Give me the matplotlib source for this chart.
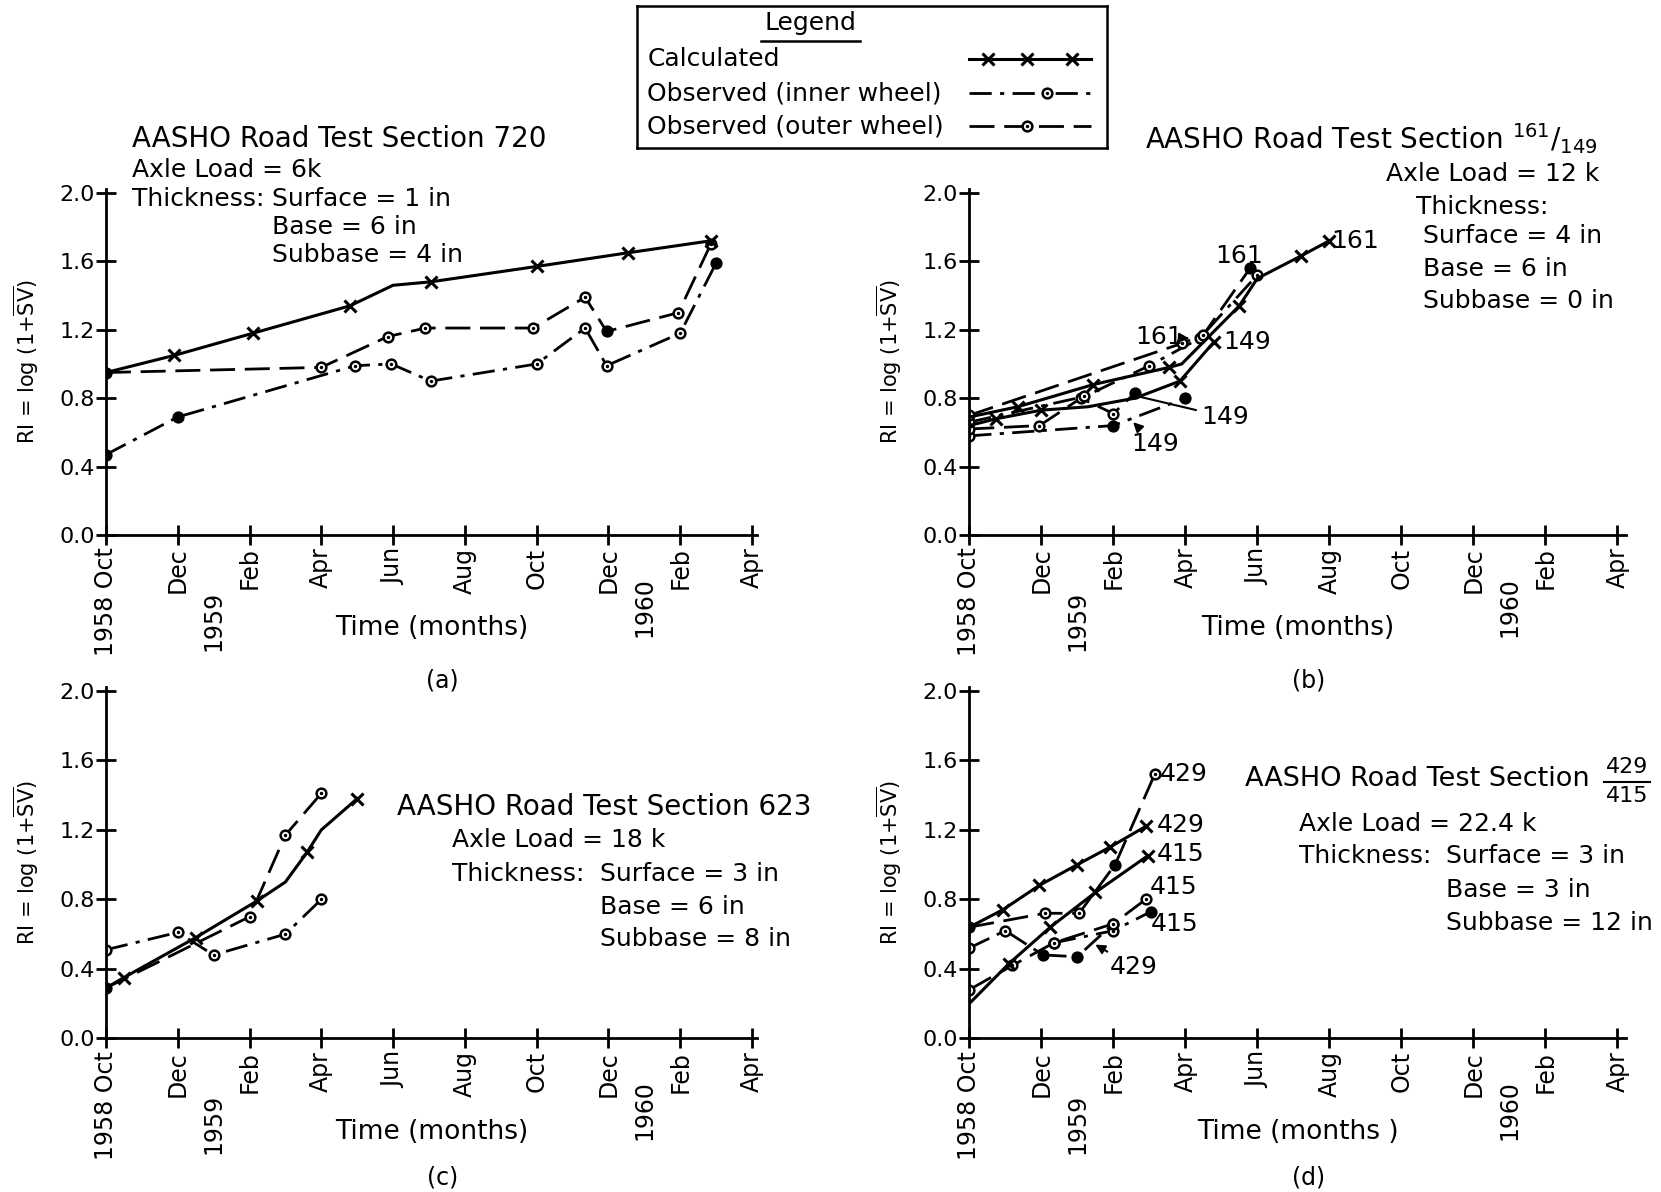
'''AASHO Road Test sections: roughness index RI vs time, calculated and observed'''
import numpy as np
import matplotlib
matplotlib.use("Agg")
from matplotlib import pyplot as plt
from matplotlib.lines import Line2D

plt.rcParams['font.family'] = 'DejaVu Sans'
plt.rcParams['mathtext.fontset'] = 'dejavusans'

# x values are months after Oct 1958
month_ticks = list(range(0, 19, 2))
month_labels = ['1958 Oct', 'Dec', 'Feb', 'Apr', 'Jun', 'Aug', 'Oct', 'Dec', 'Feb', 'Apr']
year_labels = ['1959', '1960']
year_pos = [3.0, 15.0]
ri_ticks = [0.0, 0.4, 0.8, 1.2, 1.6, 2.0]
legend_labels = ['Calculated', 'Observed (inner wheel)', 'Observed (outer wheel)']

# (a) section 720
a_calc_m = [0, 1.9, 4.1, 6.8, 8.0, 9.05, 12.0, 14.55, 16.85]
a_calc_v = [0.95, 1.05, 1.18, 1.34, 1.46, 1.48, 1.57, 1.65, 1.72]
a_calc_mark = [1, 2, 3, 5, 6, 7, 8]
a_out_m = [0, 6.0, 7.85, 8.9, 11.9, 13.35, 13.95, 15.95, 16.85]
a_out_v = [0.95, 0.98, 1.16, 1.21, 1.21, 1.39, 1.19, 1.30, 1.70]
a_out_fill = [0, 6]
a_in_m = [0, 2.0, 6.95, 7.95, 9.05, 12.0, 13.35, 13.95, 16.0, 17.0]
a_in_v = [0.47, 0.69, 0.99, 1.0, 0.90, 1.0, 1.21, 0.99, 1.18, 1.59]
a_in_fill = [0, 1, 9]

# (b) sections 161 / 149
b_c161_m = [0, 1.35, 3.45, 5.55, 5.9, 7.5, 8.0, 9.2, 10.0]
b_c161_v = [0.69, 0.75, 0.88, 0.98, 1.0, 1.34, 1.50, 1.63, 1.72]
b_c161_mark = [1, 2, 3, 5, 7, 8]
b_c149_m = [0, 0.75, 2.0, 3.3, 4.6, 5.85, 6.8]
b_c149_v = [0.64, 0.68, 0.73, 0.75, 0.80, 0.90, 1.13]
b_c149_mark = [1, 2, 5, 6]
b_o161_m = [0, 5.9, 6.5, 7.8]
b_o161_v = [0.70, 1.12, 1.17, 1.56]
b_o161_fill = [3]
b_i161_m = [0, 3.2, 5.0, 6.4, 8.0]
b_i161_v = [0.66, 0.81, 0.99, 1.15, 1.52]
b_i161_fill = []
b_o149_m = [0, 1.95, 3.1, 4.0, 4.6]
b_o149_v = [0.62, 0.64, 0.80, 0.71, 0.83]
b_o149_fill = [4]
b_i149_m = [0, 4.0, 6.0]
b_i149_v = [0.58, 0.64, 0.80]
b_i149_fill = [1, 2]

# (c) section 623
c_calc_m = [0, 0.5, 2.5, 4.2, 5.0, 5.6, 6.0, 7.0]
c_calc_v = [0.29, 0.35, 0.58, 0.79, 0.90, 1.07, 1.20, 1.38]
c_calc_mark = [1, 2, 3, 5, 7]
c_out_m = [0, 4.0, 5.0, 6.0]
c_out_v = [0.29, 0.70, 1.17, 1.41]
c_out_fill = [0]
c_in_m = [0, 2.0, 3.0, 5.0, 6.0]
c_in_v = [0.51, 0.61, 0.48, 0.60, 0.80]
c_in_fill = []

# (d) sections 429 / 415
d_c429_m = [0, 0.93, 1.94, 3.0, 3.9, 4.9]
d_c429_v = [0.64, 0.74, 0.88, 1.0, 1.10, 1.22]
d_c415_m = [0, 1.1, 2.25, 3.5, 4.95]
d_c415_v = [0.20, 0.43, 0.64, 0.84, 1.05]
d_o429_m = [0, 2.1, 3.05, 4.05, 5.15]
d_o429_v = [0.64, 0.72, 0.72, 1.0, 1.52]
d_o429_fill = [0, 3]
d_i429_m = [0, 1.0, 2.05, 3.0, 4.0]
d_i429_v = [0.52, 0.62, 0.48, 0.47, 0.66]
d_i429_fill = [2, 3]
d_o415_m = [0, 1.2, 2.35, 4.0, 4.9]
d_o415_v = [0.28, 0.42, 0.55, 0.66, 0.80]
d_o415_fill = []
d_i415_m = [2.35, 4.0, 5.05]
d_i415_v = [0.55, 0.62, 0.73]
d_i415_fill = [2]

CALC = dict(color='k', lw=2.2, ls='-', marker='x', ms=9, mew=2.2)
INNER = dict(color='k', lw=2, ls=(0, (8, 3, 1.5, 3)), marker='o', ms=7, mfc='white', mew=1.8)
OUTER = dict(color='k', lw=2, ls=(0, (9, 3.5)), marker='o', ms=7, mfc='white', mew=1.8)
FS = 18
TITLE_FS = 20

W, H = 1568, 1125  # layout measured on the reference image


def fx(px):
    return px / W


def fy(py):
    return 1 - py / H


def calc(ax, m, v, mark=None):
    ax.plot(m, v, markevery=mark, **CALC)


def obs(ax, m, v, style, fill):
    ax.plot(m, v, **style)
    ax.plot(m, v, '.', color='k', ms=3)
    if fill:
        ax.plot(np.array(m)[fill], np.array(v)[fill], 'o', color='k', ms=7)


def setup(ax, letter, cap_off, xlabel='Time (months)'):
    ax.patch.set_visible(False)
    ax.set_ylim(0, 2.025)
    for s in ['top', 'right']:
        ax.spines[s].set_visible(False)
    for s in ['left', 'bottom']:
        ax.spines[s].set_linewidth(2)
    ax.set_xticks(month_ticks)
    ax.set_xticklabels(month_labels, rotation=90, fontsize=17)
    ax.set_yticks(ri_ticks)
    ax.set_yticklabels(['%.1f' % t for t in ri_ticks], fontsize=16)
    ax.tick_params(direction='inout', length=14, width=2)
    ax.tick_params(axis='y', pad=1)
    ax.tick_params(axis='x', pad=2)
    for yr, pos, off in zip(year_labels, year_pos, [-40, -30]):
        ax.annotate(yr, xy=(pos, 0), xycoords=('data', 'axes fraction'),
                    xytext=(0, off), textcoords='offset points',
                    rotation=90, ha='center', va='top', fontsize=17)
    ax.set_xlabel(xlabel, fontsize=19)
    ax.xaxis.set_label_coords(0.5, -0.23)
    ax.set_ylabel(r'RI = log (1+$\overline{\mathrm{SV}}$)', fontsize=15)
    ax.yaxis.set_label_coords(-0.10, 0.5)
    ax.annotate(letter, xy=(0.517, 0), xycoords='axes fraction', xytext=(0, cap_off),
                textcoords='offset points', ha='center', va='center', fontsize=17)


fig = plt.figure(figsize=(16.61, 11.92), dpi=100)
ax_a = fig.add_axes([fx(100), fy(505), fx(615), 327 / H])
ax_b = fig.add_axes([fx(915), fy(505), fx(620), 327 / H])
ax_c = fig.add_axes([fx(100), fy(980), fx(615), 332 / H])
ax_d = fig.add_axes([fx(915), fy(980), fx(620), 332 / H])

# (a)
obs(ax_a, a_in_m, a_in_v, INNER, a_in_fill)
obs(ax_a, a_out_m, a_out_v, OUTER, a_out_fill)
calc(ax_a, a_calc_m, a_calc_v, a_calc_mark)
ax_a.set_xlim(0, 18.15)
setup(ax_a, '(a)', -105)

# (b)
obs(ax_b, b_i149_m, b_i149_v, INNER, b_i149_fill)
obs(ax_b, b_o149_m, b_o149_v, OUTER, b_o149_fill)
obs(ax_b, b_i161_m, b_i161_v, INNER, b_i161_fill)
obs(ax_b, b_o161_m, b_o161_v, OUTER, b_o161_fill)
calc(ax_b, b_c149_m, b_c149_v, b_c149_mark)
calc(ax_b, b_c161_m, b_c161_v, b_c161_mark)
ax_b.set_xlim(0, 18.24)
setup(ax_b, '(b)', -105)
lab = dict(fontsize=18, va='center')
arr = dict(arrowstyle='-|>', color='k', lw=1.5, mutation_scale=14, shrinkA=1, shrinkB=0)
ax_b.text(7.5, 1.63, '161', ha='center', **lab)
ax_b.text(10.05, 1.72, '161', ha='left', **lab)
ax_b.annotate('161', xy=(6.1, 1.15), xytext=(4.6, 1.16), arrowprops=arr, **lab)
ax_b.text(7.05, 1.13, '149', ha='left', **lab)
ax_b.annotate('149', xy=(4.5, 0.82), xytext=(6.45, 0.69),
              arrowprops=dict(arrowstyle='-', color='k', lw=1.5), **lab)
ax_b.annotate('149', xy=(4.55, 0.66), xytext=(4.5, 0.53), arrowprops=arr, **lab)

# (c)
obs(ax_c, c_in_m, c_in_v, INNER, c_in_fill)
obs(ax_c, c_out_m, c_out_v, OUTER, c_out_fill)
calc(ax_c, c_calc_m, c_calc_v, c_calc_mark)
ax_c.set_xlim(0, 18.15)
setup(ax_c, '(c)', -100)

# (d)
obs(ax_d, d_i415_m, d_i415_v, INNER, d_i415_fill)
obs(ax_d, d_o415_m, d_o415_v, OUTER, d_o415_fill)
obs(ax_d, d_i429_m, d_i429_v, INNER, d_i429_fill)
obs(ax_d, d_o429_m, d_o429_v, OUTER, d_o429_fill)
calc(ax_d, d_c415_m, d_c415_v, [1, 2, 3, 4])
calc(ax_d, d_c429_m, d_c429_v, [1, 2, 3, 4, 5])
ax_d.set_xlim(0, 18.24)
setup(ax_d, '(d)', -100, 'Time (months )')
ax_d.text(5.3, 1.52, '429', ha='left', **lab)
ax_d.text(5.2, 1.23, '429', ha='left', **lab)
ax_d.text(5.2, 1.06, '415', ha='left', **lab)
ax_d.text(5.0, 0.87, '415', ha='left', **lab)
ax_d.text(5.05, 0.66, '415', ha='left', **lab)
ax_d.annotate('429', xy=(3.5, 0.54), xytext=(3.9, 0.41), arrowprops=arr, **lab)


# section descriptions
def txt(s, px, py, ha='left', size=FS):
    fig.text(fx(px), fy(py), s, ha=ha, va='center', fontsize=size)


txt('AASHO Road Test Section 720', 125, 131, size=TITLE_FS)
txt('Axle Load = 6k', 125, 160)
txt('Thickness:', 125, 188)
txt('Surface = 1 in', 257, 188)
txt('Base = 6 in', 257, 214)
txt('Subbase = 4 in', 257, 241)

txt(r'AASHO Road Test Section $^{161}/_{149}$', 1508, 131, ha='right', size=TITLE_FS)
txt('Axle Load = 12 k', 1510, 164, ha='right')
txt('Thickness:', 1337, 195)
txt('Surface = 4 in', 1343, 223)
txt('Base = 6 in', 1343, 254)
txt('Subbase = 0 in', 1343, 284)

txt('AASHO Road Test Section 623', 375, 762, size=TITLE_FS)
txt('Axle Load = 18 k', 427, 793)
txt('Thickness:', 427, 825)
txt('Surface = 3 in', 566, 825)
txt('Base = 6 in', 566, 856)
txt('Subbase = 8 in', 566, 886)

txt('AASHO Road Test Section', 1175, 735, size=19.5)
txt('429', 1536, 724, ha='center', size=16)
txt('415', 1536, 751, ha='center', size=16)
fig.add_artist(Line2D([fx(1514), fx(1558)], [fy(738), fy(738)], color='k', lw=1.5,
                      transform=fig.transFigure))
txt('Axle Load = 22.4 k', 1226, 778)
txt('Thickness:', 1226, 808)
txt('Surface = 3 in', 1365, 808)
txt('Base = 3 in', 1365, 840)
txt('Subbase = 12 in', 1365, 871)

# legend box: labels left, line samples right
lax = fig.add_axes([fx(601), fy(140), fx(444), 134 / H])
lax.set_xlim(0, 1)
lax.set_ylim(0, 1)
lax.set_xticks([])
lax.set_yticks([])
for s in lax.spines.values():
    s.set_linewidth(1.8)
lax.text(0.37, 0.88, 'Legend', ha='center', va='center', fontsize=FS)
lax.plot([0.264, 0.475], [0.755, 0.755], color='k', lw=1.8)
rows = [0.627, 0.388, 0.157]
for lbl, y in zip(legend_labels, rows):
    lax.text(0.0225, y, lbl, ha='left', va='center', fontsize=FS)
seg = [0.707, 0.966]
lax.plot(seg, [rows[0]] * 2, color='k', lw=2.2)
lax.plot([0.748, 0.829, 0.926], [rows[0]] * 3, 'x', color='k', ms=9, mew=2.2)
lax.plot(seg, [rows[1]] * 2, color='k', lw=2, ls=INNER['ls'])
lax.plot([0.872], [rows[1]], 'o', color='k', ms=7, mfc='white', mew=1.8)
lax.plot([0.872], [rows[1]], '.', color='k', ms=3)
lax.plot(seg, [rows[2]] * 2, color='k', lw=2, ls=OUTER['ls'])
lax.plot([0.829], [rows[2]], 'o', color='k', ms=7, mfc='white', mew=1.8)
lax.plot([0.829], [rows[2]], '.', color='k', ms=3)

plt.savefig('out.png', dpi=100)
